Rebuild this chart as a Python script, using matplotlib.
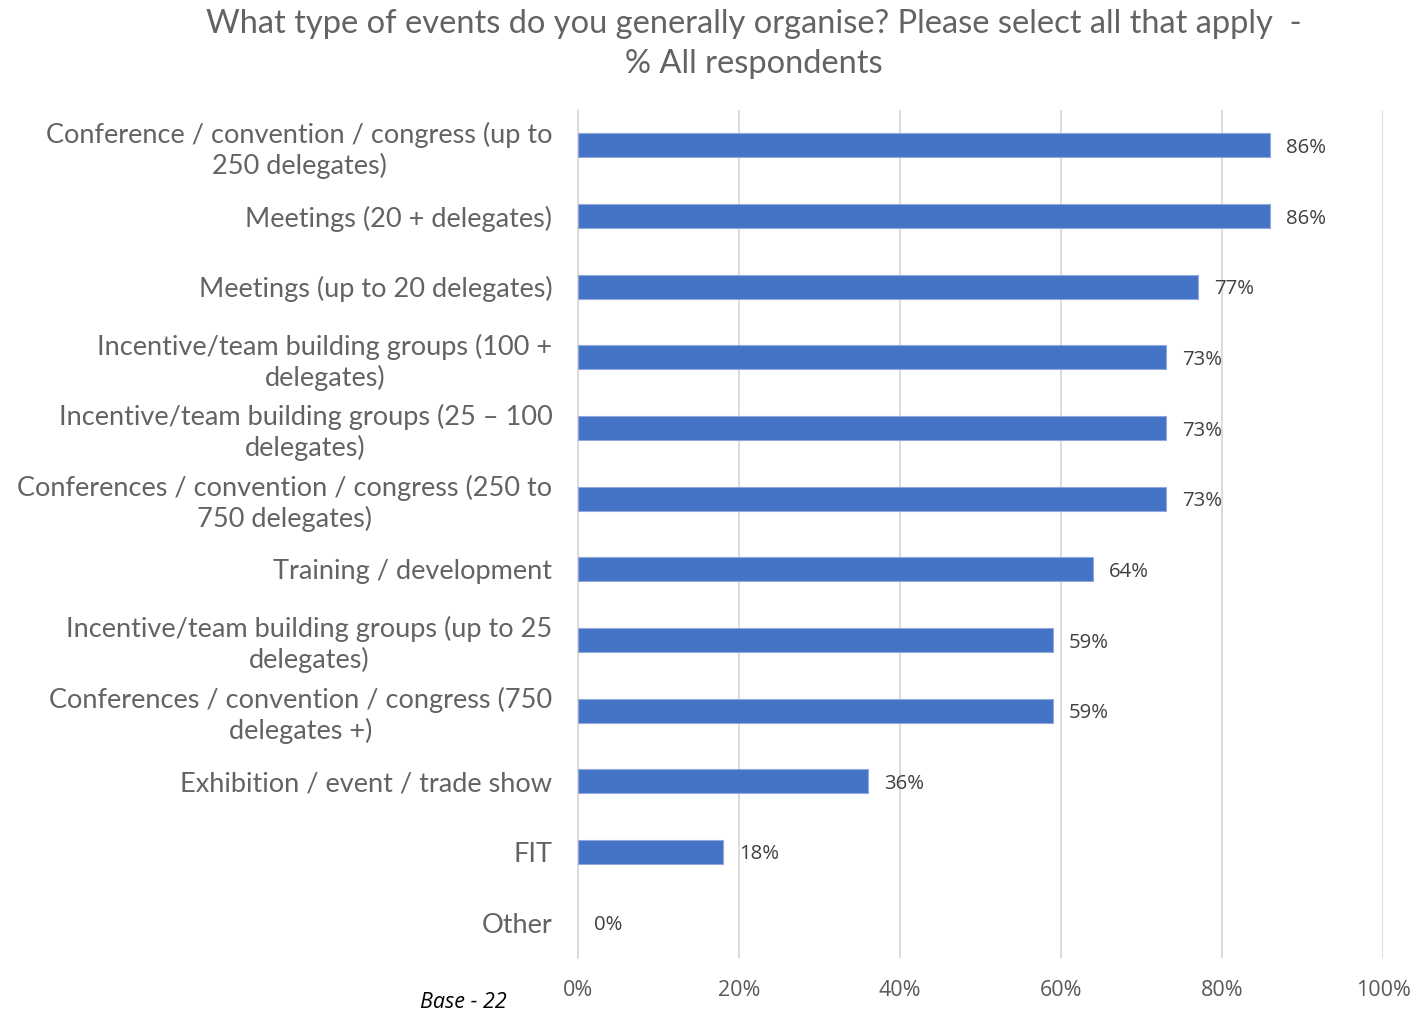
import matplotlib
matplotlib.use("Agg")
import matplotlib.pyplot as plt
from matplotlib.ticker import FuncFormatter

categories = [
    "Conference / convention / congress (up to\n250 delegates)",
    "Meetings (20 + delegates)",
    "Meetings (up to 20 delegates)",
    "Incentive/team building groups (100 +\ndelegates)",
    "Incentive/team building groups (25 \u2013 100\ndelegates)",
    "Conferences / convention / congress (250 to\n750 delegates)",
    "Training / development",
    "Incentive/team building groups (up to 25\ndelegates)",
    "Conferences / convention / congress (750\ndelegates +)",
    "Exhibition / event / trade show",
    "FIT",
    "Other",
]
values = [86, 86, 77, 73, 73, 73, 64, 59, 59, 36, 18, 0]
x_ticks = [0, 20, 40, 60, 80, 100]

title = "What type of events do you generally organise? Please select all that apply  -\n% All respondents"
base_note = "Base - 22"

BAR = "#4472C4"
LABEL_FONT = "Lato"
NUM_FONT = "Open Sans"

fig = plt.figure(figsize=(14.21, 10.10), dpi=100)
ax = fig.add_axes([578 / 1421, 1 - 958 / 1010, (1383 - 578) / 1421, (958 - 110) / 1010])

y = list(range(len(categories)))
edge_widths = [0.8 if v > 0 else 0 for v in values]
ax.barh(y, values, height=0.34, color=BAR, edgecolor="#8EA9DB",
        linewidth=edge_widths, zorder=3)
ax.set_ylim(len(categories) - 0.5, -0.5)
ax.set_xlim(0, 100)

ax.set_yticks(y)
ax.set_yticklabels(categories, fontfamily=LABEL_FONT, fontweight="normal",
                   fontsize=19.5, color="#636363", linespacing=1.22,
                   multialignment="center")
ax.tick_params(axis="y", length=0, pad=18.5)

ax.set_xticks(x_ticks)
ax.xaxis.set_major_formatter(FuncFormatter(lambda v, p: f"{v:.0f}%"))
for lab in ax.get_xticklabels():
    lab.set_fontfamily(NUM_FONT)
    lab.set_fontsize(15.5)
    lab.set_color("#595959")
ax.tick_params(axis="x", length=0, pad=16)

ax.grid(axis="x", color="#D9D9D9", linewidth=1.3, zorder=0)
for s in ["top", "right", "bottom"]:
    ax.spines[s].set_visible(False)
ax.spines["left"].set_color("#D9D9D9")
ax.spines["left"].set_linewidth(1.3)

for yi, v in zip(y, values):
    ax.text(v + 2, yi, f"{v}%", va="center_baseline", ha="left", fontfamily=NUM_FONT,
            fontsize=14.7, color="#404040", zorder=4)

fig.text(754 / 1421, 1 - 44 / 1010, title, ha="center", va="center",
         fontfamily=LABEL_FONT, fontweight="normal", fontsize=23.5, color="#636363",
         linespacing=1.45)
fig.text(463 / 1421, 1 - 1002 / 1010, base_note, ha="center", va="center",
         fontfamily=NUM_FONT, style="italic", fontsize=15.5, color="#000000")

fig.savefig("out.png", dpi=100)
